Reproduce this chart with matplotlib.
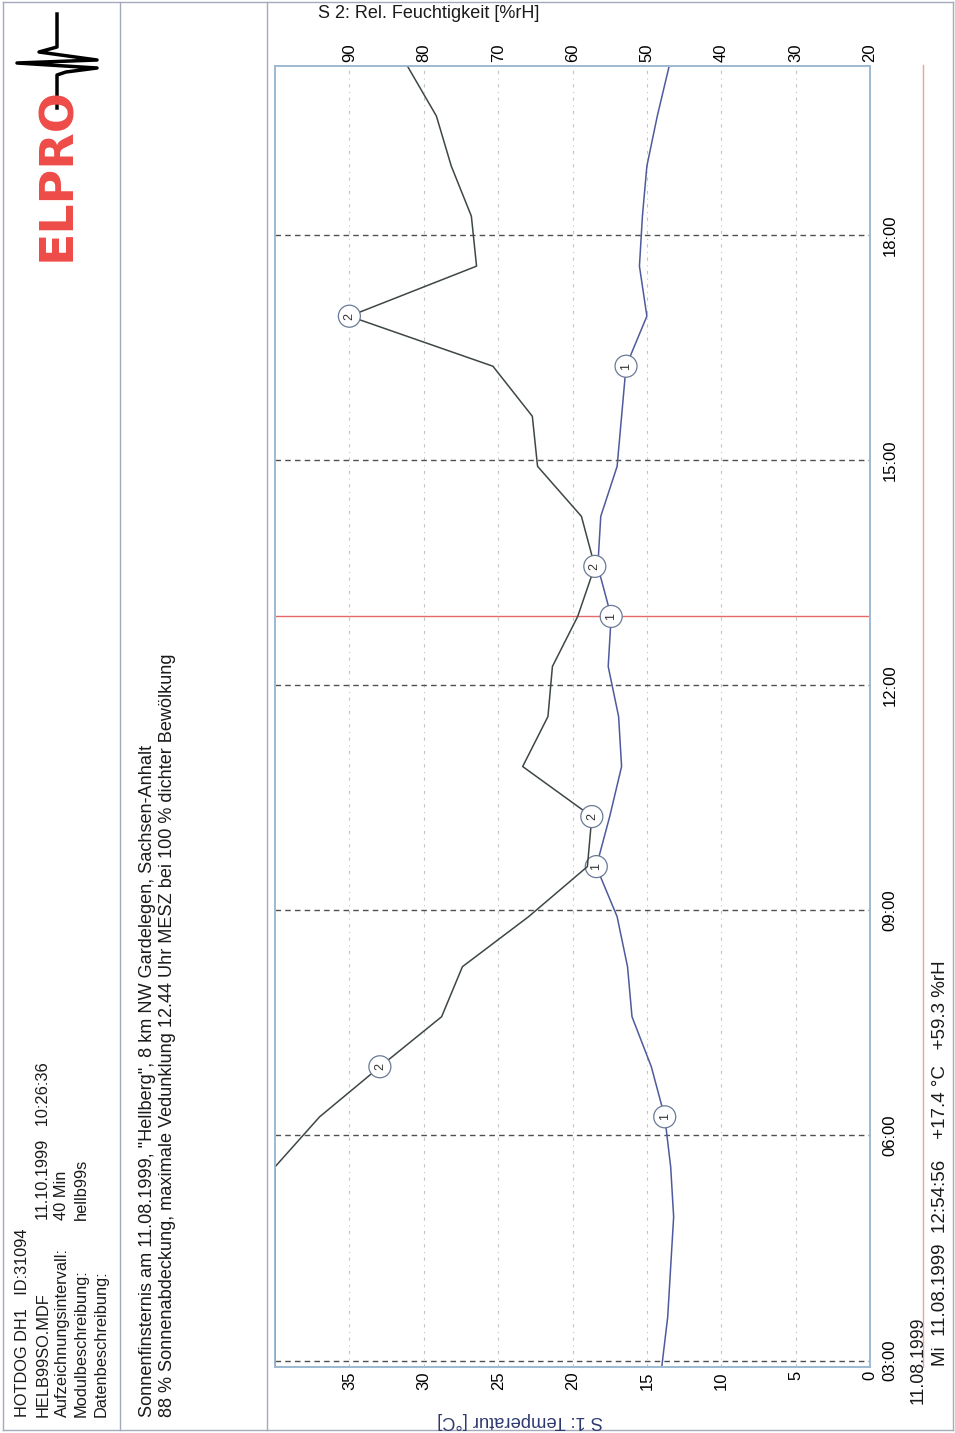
import matplotlib
matplotlib.use("Agg")
import matplotlib.pyplot as plt
from matplotlib.lines import Line2D

plt.rcParams['font.family'] = ['Liberation Sans', 'DejaVu Sans']

# samples every 40 min (logger HOTDOG DH1)
times = ["02:54:56", "03:34:56", "04:14:56", "04:54:56", "05:34:56", "06:14:56",
         "06:54:56", "07:34:56", "08:14:56", "08:54:56", "09:34:56", "10:14:56",
         "10:54:56", "11:34:56", "12:14:56", "12:54:56", "13:34:56", "14:14:56",
         "14:54:56", "15:34:56", "16:14:56", "16:54:56", "17:34:56", "18:14:56",
         "18:54:56", "19:34:56", "20:14:56"]
# S1 temperature [°C]
temp = [14.0, 13.6, 13.4, 13.2, 13.4, 13.8, 14.7, 16.0, 16.3, 17.0, 18.4, 17.5,
        16.7, 16.9, 17.6, 17.4, 18.3, 18.1, 17.0, 16.7, 16.4, 15.0, 15.5, 15.3,
        15.0, 14.3, 13.5]
# S2 relative humidity [%rH]
rh = [100, 100, 100, 100, 100, 94.0, 85.9, 77.6, 74.8, 65.9, 58.0, 57.4,
      66.7, 63.3, 62.7, 59.3, 57.0, 58.8, 64.7, 65.4, 70.7, 90.0, 72.9, 73.6,
      76.3, 78.3, 82.2]

temp_ticks = [0, 5, 10, 15, 20, 25, 30, 35]
rh_ticks = [20, 30, 40, 50, 60, 70, 80, 90]
time_ticks = [3, 6, 9, 12, 15, 18]
time_labels = ["03:00", "06:00", "09:00", "12:00", "15:00", "18:00"]
marker1_idx = [5, 10, 15, 20]
marker2_idx = [6, 11, 16, 21]
cursor_idx = 15


def hrs(s):
    h, m, sec = map(int, s.split(":"))
    return h + m / 60 + sec / 3600


t = [hrs(s) for s in times]

W, H = 955, 1433


def fx(x):
    return x / W


def fy(y):
    return 1 - y / H


fig = plt.figure(figsize=(9.55, 14.33), dpi=100)

# page frame
frame_c = "#a3abbb"
for (x0, y0, x1, y1) in [(3, 2, 953, 2), (3, 1430, 953, 1430), (3, 2, 3, 1430),
                         (953, 2, 953, 1430), (120, 2, 120, 1430), (267, 2, 267, 1430)]:
    fig.add_artist(Line2D([fx(x0), fx(x1)], [fy(y0), fy(y1)], color=frame_c, lw=1))
fig.add_artist(Line2D([fx(923), fx(923)], [fy(65), fy(1367)], color="#eaa0a8", lw=1))

# logo
fig.text(fx(58), fy(174), "ELPRO", rotation=90, ha="center", va="center",
         fontsize=34, fontweight="bold", color="#ee4b48", family="DejaVu Sans")
sx = [57, 57, 39, 97, 17, 97, 66, 57, 57]
sy = [14, 47, 52, 60, 63, 68, 72, 75, 108]
fig.add_artist(Line2D([fx(v) for v in sx], [fy(v) for v in sy], color="black", lw=2.5))

# header
hdr = dict(rotation=90, ha="center", va="bottom", fontsize=11.8, color="#1a1a1a")
fig.text(fx(23), fy(1417), "HOTDOG DH1   ID:31094", **hdr)
fig.text(fx(43), fy(1417), "HELB99SO.MDF", **hdr)
fig.text(fx(62), fy(1417), "Aufzeichnungsintervall:", **hdr)
fig.text(fx(81), fy(1417), "Modulbeschreibung:", **hdr)
fig.text(fx(101), fy(1417), "Datenbeschreibung:", **hdr)
fig.text(fx(43), fy(1220), "11.10.1999   10:26:36", **hdr)
fig.text(fx(62), fy(1220), "40 Min", **hdr)
fig.text(fx(81), fy(1220), "hellb99s", **hdr)

desc = dict(rotation=90, ha="center", va="bottom", fontsize=13.1, color="#1a1a1a")
fig.text(fx(147), fy(1417), 'Sonnenfinsternis am 11.08.1999, "Hellberg", 8 km NW Gardelegen, Sachsen-Anhalt', **desc)
fig.text(fx(167), fy(1417), "88 % Sonnenabdeckung, maximale Vedunklung 12.44 Uhr MESZ bei 100 % dichter Bewölkung", **desc)

# chart
ax = fig.add_axes([fx(275), fy(1367), fx(870) - fx(275), fy(66) - fy(1367)])
ax.set_xlim(40, 0)
ax.set_ylim(t[0], t[-1])
ax.set_xticks(temp_ticks)
ax.set_xticklabels([str(v) for v in temp_ticks], rotation=90, fontsize=12)
ax.yaxis.tick_right()
ax.set_yticks(time_ticks)
ax.set_yticklabels(time_labels, rotation=90, fontsize=12, va="center")
ax.tick_params(axis="x", length=0, pad=3)
ax.tick_params(axis="y", length=0, pad=9)
ax.grid(axis="x", color="#c4c4c4", lw=0.8, linestyle=(0, (3, 4, 1, 4)))
for v in time_ticks:
    ax.axhline(v, color="#505050", lw=1, linestyle=(0, (4, 3)))
ax.axhline(t[cursor_idx], color="#e46a6a", lw=1)

ax.plot(temp, t, color="#4f5a9c", lw=1.1)
for i in marker1_idx:
    ax.text(temp[i], t[i], "1", rotation=90, ha="center", va="center", fontsize=9,
            color="#333", zorder=5,
            bbox=dict(boxstyle="circle,pad=0.4", fc="white", ec="#6a7a96", lw=0.9))

ax2 = ax.twiny()
ax2.set_xlim(100, 20)
ax2.set_xticks(rh_ticks)
ax2.set_xticklabels([str(v) for v in rh_ticks], rotation=90, fontsize=12)
ax2.tick_params(axis="x", length=0, pad=3)
ax2.plot(rh, t, color="#3e4746", lw=1.1)
for i in marker2_idx:
    ax2.text(rh[i], t[i], "2", rotation=90, ha="center", va="center", fontsize=9,
             color="#333", zorder=5,
             bbox=dict(boxstyle="circle,pad=0.4", fc="white", ec="#6a7a96", lw=0.9))

for a in (ax, ax2):
    for s in a.spines.values():
        s.set_color("#9dbad2")
        s.set_linewidth(1.2)

fig.text(fx(318), fy(13), "S 2: Rel. Feuchtigkeit [%rH]", ha="left", va="center",
         fontsize=13, color="#1a1a1a")
fig.text(fx(520), fy(1420), "S 1: Temperatur [°C]", rotation=180, ha="center", va="center",
         fontsize=13.2, color="#2e3a6e")
fig.text(fx(918), fy(1360), "11.08.1999", rotation=90, ha="center", va="center",
         fontsize=12.8, color="#1a1a1a")
fig.text(fx(940), fy(1366), "Mi  11.08.1999  12:54:56    +17.4 °C   +59.3 %rH",
         rotation=90, ha="center", va="bottom", fontsize=13.5, color="#1a1a1a")

fig.savefig("out.png", dpi=100)
